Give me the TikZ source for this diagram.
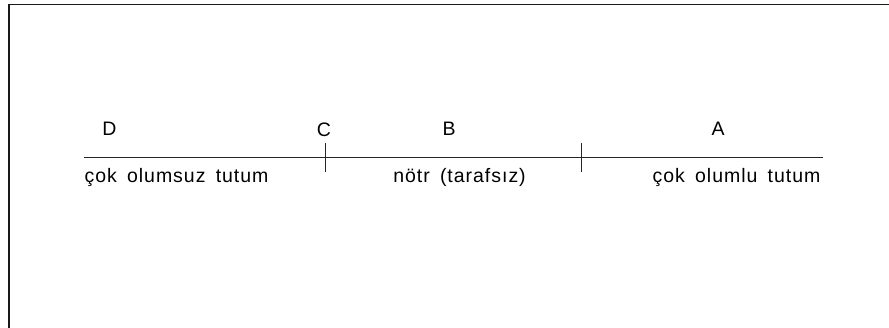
\documentclass[tikz,border=0pt]{standalone}
\usepackage{fontspec}
\setmainfont{Liberation Sans}[LetterSpace=5,WordSpace=1.6]
\begin{document}
\begin{tikzpicture}[x=1pt,y=-1pt,
  lbl/.style={inner sep=0pt,anchor=base,font=\fontsize{19.5}{22}\selectfont},
  axis/.style={line width=0.8pt,black!85},
  frame/.style={line width=1.3pt,black!90}]
\useasboundingbox (0,0) rectangle (889,328);
% frame (only top and left visible)
\coordinate (ftl) at (9,4.5);
\coordinate (ftr) at (892,4.5);
\coordinate (fbl) at (9,331);
\draw[frame] (fbl) -- (ftl) -- (ftr);
% axis
\coordinate (L) at (84,157.5);
\coordinate (R) at (823,157.5);
\draw[axis] (L) -- (R);
\coordinate (t1a) at (325.5,143);
\coordinate (t1b) at (325.5,172);
\coordinate (t2a) at (581,143);
\coordinate (t2b) at (581,172);
\draw[axis] (t1a) -- (t1b);
\draw[axis] (t2a) -- (t2b);
% top labels
\node[lbl] (D) at (109.5,135.3) {D};
\node[lbl] (C) at (324,136.3) {C};
\node[lbl] (B) at (449,135.5) {B};
\node[lbl] (A) at (718,135.3) {A};
% bottom labels
\node[lbl] (neg) at (176.5,182.7) {çok olumsuz tutum};
\node[lbl] (neu) at (459.5,182.7) {nötr (tarafsız)};
\node[lbl] (pos) at (736.5,182.7) {çok olumlu tutum};
\end{tikzpicture}
\end{document}
